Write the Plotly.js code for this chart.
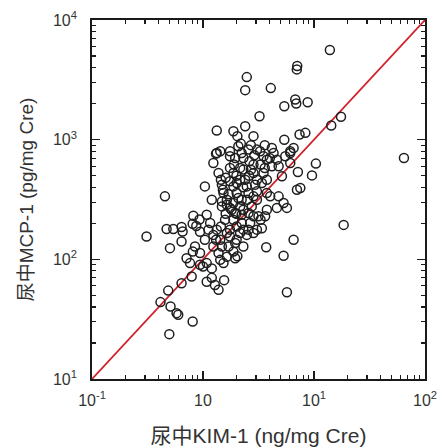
<!DOCTYPE html>
<html>
<head>
<meta charset="utf-8">
<script src="https://cdn.plot.ly/plotly-3.0.1.min.js"></script>
<style>html,body{margin:0;padding:0;background:#fff;}#chart{width:439px;height:448px;}</style>
</head>
<body>
<div id="chart"></div>
<script>
// Urinary KIM-1 (ng/mg Cre)
const kim = [13.9,7.06,7.0,2.48,2.40,4.08,5.40,6.78,6.92,8.77,3.23,17.5,14.3,1.33,1.88,2.04,2.40,2.85,7.41,8.36,5.40,64.6,10.4,9.59,7.16,7.02,7.53,0.454,18.5,0.310,6.55,3.71,5.32,5.70,0.497,0.807,0.414,0.486,0.51,0.578,0.598,0.641,0.79,0.504,0.47,0.54,0.641,0.655,0.641,0.818,0.807,0.711,0.764,0.81,0.847,0.94,0.94,1.0,1.04,1.12,1.08,1.04,1.2,1.16,1.24,1.31,1.24,1.08,1.2,1.08,1.2,1.28,1.38,1.55,1.43,1.53,1.64,1.38,1.48,1.43,1.33,1.45,1.33,1.43,1.24,1.38,1.45,1.48,1.51,1.53,1.64,1.64,1.75,1.75,1.95,1.75,1.88,1.75,1.88,2.01,2.08,2.19,2.23,2.31,2.16,2.31,2.16,2.40,2.01,2.08,2.23,1.88,1.81,1.95,2.16,2.31,2.23,2.48,2.57,2.50,2.57,2.62,2.85,2.85,3.06,2.95,2.85,3.06,3.06,3.27,3.51,3.76,4.17,4.32,4.63,4.8,4.17,3.51,3.76,3.39,3.06,3.76,4.03,4.8,5.32,5.70,4.63,3.76,3.63,5.14,5.51,6.11,6.11,3.16,3.30,2.85,2.66,3.39,2.85,3.06,2.57,2.48,2.23,2.31,2.16,2.31,2.01,1.95,1.88,1.95,2.04,1.64,1.75,1.70,1.75,1.88,2.01,1.58,1.48,1.48,6.55,6.11,1.31,1.75,2.57,2.75,0.93,0.87,0.94,1.6,1.9,2.0,2.7,2.3,1.7,2.6,2.0,1.6,3.3,3.6,4.0,2.9,2.7,3.6];
// Urinary MCP-1 (pg/mg Cre)
const mcp = [5610,4120,3865,3334,2594,2698,1905,2168,2005,2056,1571,1552,1313,1191,1177,1070,1295,1070,1104,1140,1000,703,631,503,537,382,394,336,194,155,146,126,107,53,23.7,30.2,43.9,54.8,40.3,35.5,34.4,63.2,71.9,124,179,179,186,171,141,231,198,102,93,116,128,113,90,87,146,177,236,407,315,201,160,146,128,93,84,65,70,61,55.6,67,99,93,105,113,128,146,177,188,774,800,638,527,463,421,382,358,315,286,269,726,703,581,527,449,407,435,881,927,774,703,581,562,463,463,358,325,315,296,260,244,277,260,236,407,358,315,826,659,619,527,463,421,336,315,826,800,726,681,853,774,681,600,600,527,463,435,370,358,336,336,296,269,269,260,229,494,726,800,638,229,214,229,201,182,166,177,177,160,201,177,166,128,146,137,116,102,106,166,155,128,177,214,188,214,277,305,853,774,764,800,244,277,215,190,170,480,620,500,560,400,350,500,240,240,620,580,700,740,900,900];
// Reference line y = 100·x
const lineX = [0.1, 100];
const lineY = [10, 10000];

const xTickVals = [0.1, 1, 10, 100];
const xTickText = ['10<sup>-1</sup>', '10', '10<sup>1</sup>', '10<sup>2</sup>'];
const yTickVals = [10, 100, 1000, 10000];
const yTickText = ['10<sup>1</sup>', '10<sup>2</sup>', '10<sup>3</sup>', '10<sup>4</sup>'];

function minorTicks(d0, d1) {
  const out = [];
  for (let d = d0; d < d1; d++) for (let k = 2; k <= 9; k++) out.push(k * Math.pow(10, d));
  return out;
}

const FONT = '"Liberation Sans", Arial, "Noto Sans CJK JP", sans-serif';
const axisCommon = {
  type: 'log', showgrid: false, zeroline: false,
  showline: true, linecolor: '#1a1a1a', linewidth: 1.8, mirror: 'ticks',
  ticks: 'inside', ticklen: 8, tickwidth: 1.4, tickcolor: '#1a1a1a',
  tickfont: {family: FONT, size: 16, color: '#333'},
  tickmode: 'array'
};

const data = [
  {x: lineX, y: lineY, mode: 'lines', type: 'scatter',
   line: {color: '#d0202a', width: 1.8}, hoverinfo: 'skip', showlegend: false},
  {x: kim, y: mcp, mode: 'markers', type: 'scatter', showlegend: false,
   marker: {symbol: 'circle-open', size: 9, color: '#1e1e1e', line: {width: 1.5}}}
];

const layout = {
  width: 439, height: 448,
  margin: {l: 92, r: 14, t: 20, b: 69},
  paper_bgcolor: '#fff', plot_bgcolor: '#fff',
  font: {family: FONT, color: '#333'},
  xaxis: Object.assign({}, axisCommon, {
    range: [-1, 2], tickvals: xTickVals, ticktext: xTickText, ticklabelstandoff: 6,
    minor: {tickvals: minorTicks(-1, 2), ticks: 'inside', ticklen: 4, tickwidth: 1.1, tickcolor: '#1a1a1a', showgrid: false},
    title: {text: '尿中KIM-1 (ng/mg Cre)', font: {family: FONT, size: 21, color: '#333'}, standoff: 20}
  }),
  yaxis: Object.assign({}, axisCommon, {
    range: [1, 4], tickvals: yTickVals, ticktext: yTickText, ticklabelstandoff: 10,
    minor: {tickvals: minorTicks(1, 4), ticks: 'inside', ticklen: 4, tickwidth: 1.1, tickcolor: '#1a1a1a', showgrid: false},
    title: {text: '尿中MCP-1 (pg/mg Cre)', font: {family: FONT, size: 19, color: '#333'}, standoff: 14}
  })
};

Plotly.newPlot('chart', data, layout, {displayModeBar: false, staticPlot: true});
</script>
</body>
</html>
